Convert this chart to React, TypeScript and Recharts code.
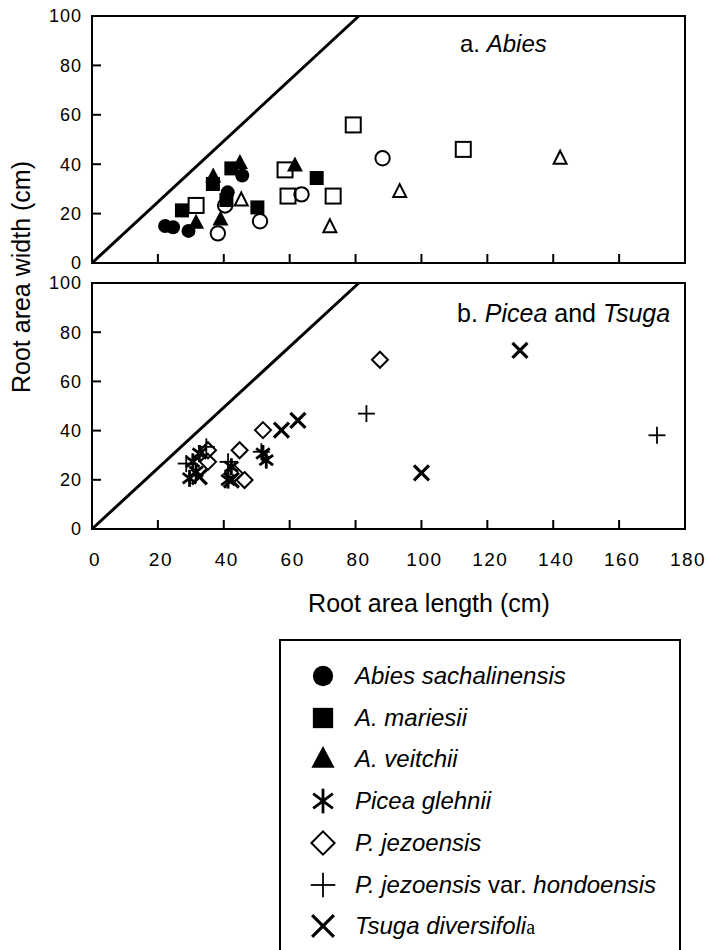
import React from 'react';
import { ScatterChart, Scatter, XAxis, YAxis, ReferenceLine, ReferenceArea } from 'recharts';

const xTicks = [0, 20, 40, 60, 80, 100, 120, 140, 160, 180];
const yTicks = [0, 20, 40, 60, 80, 100];
const diagonalEnd = { x: 81, y: 100 };

// a. Abies
const abiesSachalinensis = [
  { x: 22.2, y: 15.0 }, { x: 24.6, y: 14.5 }, { x: 29.3, y: 13.0 },
  { x: 41.2, y: 28.6 }, { x: 45.6, y: 35.4 },
];
const abiesMariesii = [
  { x: 27.3, y: 21.3 }, { x: 36.7, y: 32.0 }, { x: 42.3, y: 38.3 },
  { x: 40.8, y: 25.5 }, { x: 50.2, y: 22.5 }, { x: 68.2, y: 34.4 },
];
const abiesVeitchii = [
  { x: 31.6, y: 16.3 }, { x: 39.0, y: 17.6 }, { x: 36.8, y: 35.0 },
  { x: 44.9, y: 40.5 }, { x: 61.6, y: 39.5 },
];
const abiesOpenCircle = [
  { x: 38.2, y: 12.0 }, { x: 40.4, y: 23.3 }, { x: 51.0, y: 16.9 },
  { x: 63.6, y: 27.8 }, { x: 88.2, y: 42.4 },
];
const abiesOpenSquare = [
  { x: 31.6, y: 23.3 }, { x: 58.6, y: 37.7 }, { x: 59.5, y: 27.1 },
  { x: 73.2, y: 27.1 }, { x: 79.3, y: 55.9 }, { x: 112.7, y: 46.0 },
];
const abiesOpenTriangle = [
  { x: 45.3, y: 25.5 }, { x: 72.2, y: 14.7 }, { x: 93.4, y: 28.9 }, { x: 142.1, y: 42.4 },
];

// b. Picea and Tsuga
const piceaGlehnii = [
  { x: 29.6, y: 20.6 }, { x: 31.6, y: 23.3 }, { x: 32.6, y: 30.7 }, { x: 30.6, y: 27.3 },
  { x: 41.3, y: 19.9 }, { x: 42.3, y: 25.3 }, { x: 51.9, y: 30.7 }, { x: 52.9, y: 28.0 },
];
const piceaJezoensis = [
  { x: 87.4, y: 68.8 }, { x: 51.9, y: 40.2 }, { x: 44.8, y: 32.0 }, { x: 46.3, y: 19.9 },
  { x: 35.2, y: 27.3 }, { x: 35.2, y: 32.0 }, { x: 43.3, y: 22.6 },
];
const piceaHondoensis = [
  { x: 83.3, y: 46.9 }, { x: 171.5, y: 38.1 }, { x: 51.4, y: 31.4 },
  { x: 28.6, y: 26.6 }, { x: 34.7, y: 33.4 }, { x: 41.3, y: 27.3 },
];
const tsugaDiversifolia = [
  { x: 57.5, y: 40.2 }, { x: 62.5, y: 44.2 }, { x: 129.9, y: 72.6 },
  { x: 100.0, y: 22.8 }, { x: 32.6, y: 21.2 }, { x: 42.3, y: 19.9 },
];

const FONT = '"Liberation Sans", Arial, sans-serif';

const drawMark = (kind: string, cx: number, cy: number, s = 1) => {
  const k = (n: number) => n * s;
  switch (kind) {
    case 'dot':
      return <circle cx={cx} cy={cy} r={k(7)} fill="#000" />;
    case 'ring':
      return <circle cx={cx} cy={cy} r={k(7.2)} fill="none" stroke="#000" strokeWidth={2} />;
    case 'box':
      return <rect x={cx - k(7)} y={cy - k(7)} width={k(14)} height={k(14)} fill="#000" />;
    case 'openBox':
      return <rect x={cx - k(7.5)} y={cy - k(7.5)} width={k(15)} height={k(15)} fill="none" stroke="#000" strokeWidth={2} />;
    case 'tri':
      return <polygon points={`${cx},${cy - k(9)} ${cx - k(8)},${cy + k(6)} ${cx + k(8)},${cy + k(6)}`} fill="#000" />;
    case 'openTri':
      return <polygon points={`${cx},${cy - k(7.5)} ${cx - k(6.5)},${cy + k(5.5)} ${cx + k(6.5)},${cy + k(5.5)}`} fill="none" stroke="#000" strokeWidth={2} strokeLinejoin="miter" />;
    case 'star': {
      const r = k(8.5);
      const dx = r * 0.8, dy = r * 0.6;
      return (
        <g stroke="#000" strokeWidth={2.8}>
          <line x1={cx} y1={cy - r} x2={cx} y2={cy + r} />
          <line x1={cx - dx} y1={cy - dy} x2={cx + dx} y2={cy + dy} />
          <line x1={cx - dx} y1={cy + dy} x2={cx + dx} y2={cy - dy} />
        </g>
      );
    }
    case 'diamond':
      return <polygon points={`${cx},${cy - k(8)} ${cx + k(8)},${cy} ${cx},${cy + k(8)} ${cx - k(8)},${cy}`} fill="none" stroke="#000" strokeWidth={2} />;
    case 'plus':
      return (
        <g stroke="#000" strokeWidth={1.8}>
          <line x1={cx - k(8.5)} y1={cy} x2={cx + k(8.5)} y2={cy} />
          <line x1={cx} y1={cy - k(8.5)} x2={cx} y2={cy + k(8.5)} />
        </g>
      );
    case 'cross':
      return (
        <g stroke="#000" strokeWidth={3.2}>
          <line x1={cx - k(7.5)} y1={cy - k(7.5)} x2={cx + k(7.5)} y2={cy + k(7.5)} />
          <line x1={cx - k(7.5)} y1={cy + k(7.5)} x2={cx + k(7.5)} y2={cy - k(7.5)} />
        </g>
      );
    default:
      return null;
  }
};

const markShape = (kind: string) => (props: any) => drawMark(kind, props.cx, props.cy);

// Inward tick marks: with tickSize -8 the label anchor sits (tickMargin - 8) px outside the axis.
const Y_MARGIN = 18;
const X_MARGIN = 32;
const TICK_LEN = 9;

const yTick = (props: any) => {
  const { x, y, payload } = props;
  const axis = x + Y_MARGIN - 8;
  return (
    <g>
      <line x1={axis} x2={axis + TICK_LEN} y1={y} y2={y} stroke="#000" strokeWidth={2} />
      <text x={x} y={y} dy="0.36em" textAnchor="end" fontSize={18} letterSpacing={1} fontFamily={FONT} fill="#000">{payload.value}</text>
    </g>
  );
};

const xTickMarkOnly = (props: any) => {
  const { x, y } = props;
  const axis = y - X_MARGIN + 8;
  return <line x1={x} x2={x} y1={axis} y2={axis - TICK_LEN} stroke="#000" strokeWidth={2} />;
};

const xTickLabeled = (props: any) => {
  const { x, y, payload } = props;
  const axis = y - X_MARGIN + 8;
  return (
    <g>
      <line x1={x} x2={x} y1={axis} y2={axis - TICK_LEN} stroke="#000" strokeWidth={2} />
      <text x={x + 3} y={y} dy="0.71em" textAnchor="middle" fontSize={19} letterSpacing={1.5} fontFamily={FONT} fill="#000">{payload.value}</text>
    </g>
  );
};

const frame = (key: string) => [
  <ReferenceArea key={key + 'f'} x1={0} x2={180} y1={0} y2={100} fill="none" fillOpacity={0} stroke="#000" strokeWidth={2} />,
  <ReferenceLine key={key + 'd'} segment={[{ x: 0, y: 0 }, diagonalEnd]} stroke="#000" strokeWidth={3} />,
];

const legendItems = [
  { kind: 'dot', label: <i>Abies sachalinensis</i> },
  { kind: 'box', label: <i>A. mariesii</i> },
  { kind: 'tri', label: <i>A. veitchii</i> },
  { kind: 'star', label: <i>Picea glehnii</i> },
  { kind: 'diamond', label: <i>P. jezoensis</i> },
  { kind: 'plus', label: <><i>P. jezoensis</i> var. <i>hondoensis</i></> },
  { kind: 'cross', label: <><i>Tsuga diversifoli</i><span style={{ fontFamily: '"Liberation Serif", serif', fontSize: 20 }}>a</span></> },
];

export default function App() {
  return (
    <div style={{ position: 'absolute', left: 0, top: 0, width: 710, height: 950, background: '#fff', overflow: 'hidden', fontFamily: FONT }}>
      <div style={{ position: 'absolute', left: 0, top: 0 }}>
        <ScatterChart width={710} height={280} margin={{ top: 16, right: 25, bottom: 15, left: 32 }}>
          <XAxis type="number" dataKey="x" domain={[0, 180]} ticks={xTicks} height={2} axisLine={false}
            tick={xTickMarkOnly} tickSize={-8} tickMargin={X_MARGIN} tickLine={false} />
          <YAxis type="number" dataKey="y" domain={[0, 100]} ticks={yTicks} width={60} axisLine={false}
            tick={yTick} tickSize={-8} tickMargin={Y_MARGIN} tickLine={false} />
          {frame('a')}
          <Scatter data={abiesOpenCircle} shape={markShape('ring')} isAnimationActive={false} />
          <Scatter data={abiesOpenSquare} shape={markShape('openBox')} isAnimationActive={false} />
          <Scatter data={abiesOpenTriangle} shape={markShape('openTri')} isAnimationActive={false} />
          <Scatter data={abiesSachalinensis} shape={markShape('dot')} isAnimationActive={false} />
          <Scatter data={abiesMariesii} shape={markShape('box')} isAnimationActive={false} />
          <Scatter data={abiesVeitchii} shape={markShape('tri')} isAnimationActive={false} />
        </ScatterChart>
      </div>
      <div style={{ position: 'absolute', left: 0, top: 270 }}>
        <ScatterChart width={710} height={349} margin={{ top: 13, right: 25, bottom: 0, left: 32 }}>
          <XAxis type="number" dataKey="x" domain={[0, 180]} ticks={xTicks} height={90} axisLine={false}
            tick={xTickLabeled} tickSize={-8} tickMargin={X_MARGIN} tickLine={false} />
          <YAxis type="number" dataKey="y" domain={[0, 100]} ticks={yTicks} width={60} axisLine={false}
            tick={yTick} tickSize={-8} tickMargin={Y_MARGIN} tickLine={false} />
          {frame('b')}
          <Scatter data={piceaJezoensis} shape={markShape('diamond')} isAnimationActive={false} />
          <Scatter data={piceaHondoensis} shape={markShape('plus')} isAnimationActive={false} />
          <Scatter data={piceaGlehnii} shape={markShape('star')} isAnimationActive={false} />
          <Scatter data={tsugaDiversifolia} shape={markShape('cross')} isAnimationActive={false} />
        </ScatterChart>
      </div>
      <svg width={710} height={950} style={{ position: 'absolute', left: 0, top: 0, pointerEvents: 'none' }}>
        <text x={460} y={52} fontSize={24} fontFamily={FONT} fill="#000">
          a. <tspan fontStyle="italic">Abies</tspan>
        </text>
        <text x={457} y={322} fontSize={25} fontFamily={FONT} fill="#000">
          b. <tspan fontStyle="italic">Picea</tspan> and <tspan fontStyle="italic">Tsuga</tspan>
        </text>
        <text x={0} y={0} transform="translate(30,277) rotate(-90)" textAnchor="middle" fontSize={25} fontFamily={FONT} fill="#000">
          Root area width (cm)
        </text>
        <text x={429} y={612} textAnchor="middle" fontSize={25} fontFamily={FONT} fill="#000">
          Root area length (cm)
        </text>
      </svg>
      <div style={{ position: 'absolute', left: 279, top: 639, width: 398, height: 330, border: '2px solid #000', borderBottom: 'none' }}>
        {legendItems.map((item, i) => (
          <div key={i} style={{ position: 'absolute', left: 0, top: 15 + i * 41.7, height: 40, display: 'flex', alignItems: 'center', whiteSpace: 'nowrap' }}>
            <svg width={70} height={40}>{drawMark(item.kind, 42, 20, 1.45)}</svg>
            <span style={{ marginLeft: 4, fontSize: 24, color: '#000' }}>{item.label}</span>
          </div>
        ))}
      </div>
    </div>
  );
}
